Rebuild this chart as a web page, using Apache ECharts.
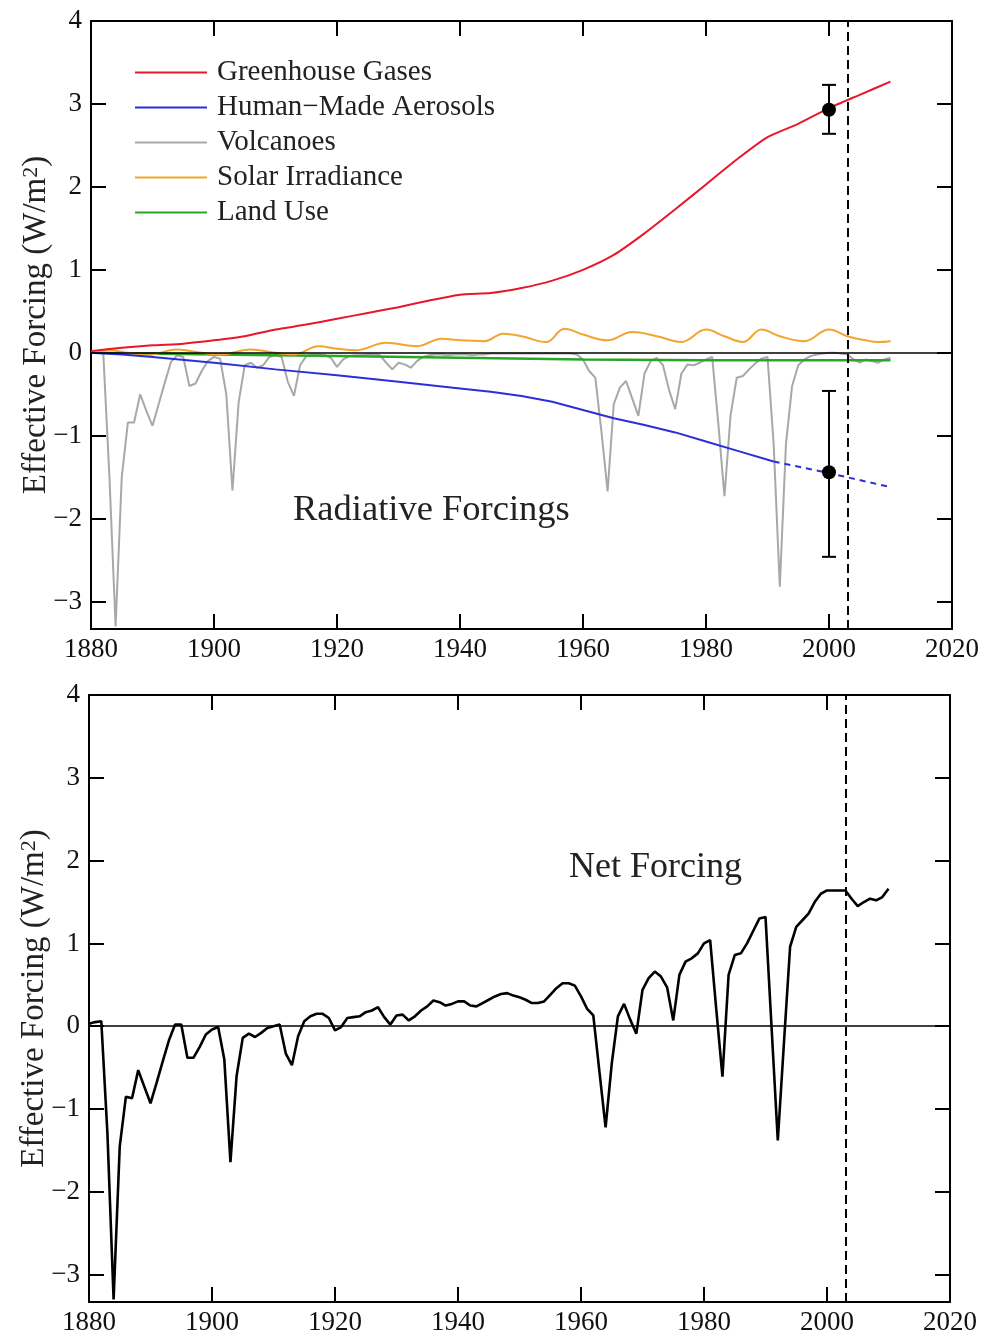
<!DOCTYPE html>
<html><head><meta charset="utf-8">
<script src="https://cdn.jsdelivr.net/npm/echarts@6/dist/echarts.min.js"></script>
<style>html,body{margin:0;padding:0;background:#fff}#c{width:983px;height:1337px}</style>
</head><body><div id="c"></div>
<script>
// ---------- DATA ----------
const firstYear = 1880;
const xTicks = [1880, 1900, 1920, 1940, 1960, 1980, 2000, 2020];
const yTicks = [-3, -2, -1, 0, 1, 2, 3, 4];
const seriesNames = ['Greenhouse Gases', 'Human\u2212Made Aerosols', 'Volcanoes', 'Solar Irradiance', 'Land Use'];

const ghg = [[1880,0.02],[1885,0.06],[1890,0.09],[1895,0.11],[1900,0.15],[1905,0.2],[1910,0.28],[1915,0.34],[1920,0.41],[1925,0.48],[1930,0.55],[1935,0.63],[1940,0.7],[1945,0.72],[1950,0.78],[1955,0.87],[1960,1.0],[1965,1.18],[1970,1.44],[1975,1.73],[1980,2.03],[1985,2.33],[1990,2.6],[1995,2.76],[2000,2.95],[2005,3.11],[2010,3.27]];

const aerosolObs = [[1880,0],[1885,-0.02],[1890,-0.05],[1900,-0.12],[1910,-0.2],[1920,-0.27],[1930,-0.35],[1940,-0.43],[1945,-0.47],[1950,-0.52],[1955,-0.59],[1960,-0.69],[1965,-0.79],[1970,-0.87],[1975,-0.96],[1980,-1.07],[1985,-1.18],[1991,-1.31]];
const aerosolExt = [[1991,-1.31],[2000,-1.45],[2010,-1.62]];

const volcano = [0,0,-0.01,-1.5,-3.3,-1.5,-0.84,-0.84,-0.5,-0.7,
 -0.88,-0.62,-0.36,-0.11,-0.03,-0.05,-0.4,-0.37,-0.22,-0.1,
 -0.05,-0.07,-0.5,-1.66,-0.6,-0.15,-0.12,-0.18,-0.15,-0.05,
 -0.03,-0.05,-0.35,-0.52,-0.15,-0.04,-0.02,-0.02,-0.03,-0.06,
 -0.17,-0.08,-0.04,-0.03,-0.03,-0.02,-0.02,-0.03,-0.12,-0.2,
 -0.12,-0.14,-0.18,-0.1,-0.05,-0.03,-0.02,-0.02,-0.03,-0.02,
 -0.02,-0.02,-0.03,-0.02,-0.02,-0.01,-0.01,-0.01,-0.01,-0.01,
 -0.01,-0.01,-0.01,-0.01,-0.01,-0.01,-0.01,-0.01,-0.01,-0.02,
 -0.08,-0.22,-0.3,-0.95,-1.67,-0.62,-0.42,-0.34,-0.55,-0.76,
 -0.25,-0.1,-0.06,-0.15,-0.45,-0.68,-0.25,-0.14,-0.15,-0.12,
 -0.08,-0.05,-0.85,-1.73,-0.75,-0.3,-0.28,-0.2,-0.13,-0.07,
 -0.05,-1.1,-2.82,-1.1,-0.4,-0.15,-0.08,-0.04,-0.02,-0.01,
 0,0,-0.01,-0.02,-0.08,-0.12,-0.08,-0.1,-0.12,-0.08,-0.06];

const solar = [[1880,0.01],[1883,0.03],[1886,0.0],[1889,-0.03],[1894,0.04],[1898,0.0],[1901,-0.02],[1906,0.04],[1910,0.0],[1913,-0.02],[1917,0.08],[1920,0.05],[1923,0.03],[1928,0.12],[1933,0.08],[1937,0.17],[1940,0.15],[1944,0.14],[1947,0.23],[1950,0.2],[1954,0.13],[1957,0.29],[1960,0.22],[1964,0.15],[1968,0.25],[1972,0.2],[1976,0.13],[1980,0.28],[1983,0.2],[1986,0.13],[1989,0.28],[1992,0.2],[1996,0.14],[2000,0.28],[2003,0.2],[2006,0.15],[2008,0.13],[2010,0.14]];

const landUse = [[1880,0],[1900,-0.02],[1920,-0.04],[1940,-0.06],[1960,-0.08],[1980,-0.09],[2000,-0.09],[2010,-0.09]];

const netForcing = [0.03,0.05,0.06,-1.3,-3.3,-1.45,-0.85,-0.87,-0.53,-0.73,
 -0.93,-0.68,-0.42,-0.17,0.02,0.02,-0.38,-0.38,-0.25,-0.1,
 -0.04,-0.01,-0.4,-1.64,-0.6,-0.14,-0.09,-0.13,-0.08,-0.02,
 0.0,0.02,-0.33,-0.47,-0.12,0.06,0.12,0.15,0.15,0.1,
 -0.05,-0.01,0.1,0.11,0.12,0.17,0.19,0.23,0.11,0.02,
 0.13,0.14,0.07,0.12,0.19,0.24,0.31,0.29,0.25,0.27,
 0.3,0.3,0.25,0.24,0.28,0.32,0.36,0.39,0.4,0.37,
 0.35,0.32,0.28,0.28,0.3,0.38,0.46,0.52,0.52,0.49,
 0.36,0.21,0.13,-0.55,-1.22,-0.45,0.12,0.27,0.08,-0.09,
 0.44,0.58,0.66,0.6,0.47,0.07,0.62,0.78,0.82,0.88,
 1.0,1.04,0.2,-0.61,0.62,0.86,0.88,1.0,1.15,1.3,
 1.32,-0.03,-1.38,-0.2,0.96,1.2,1.28,1.36,1.5,1.6,
 1.64,1.64,1.64,1.64,1.54,1.45,1.5,1.54,1.52,1.56,1.66];

const obsYear = [2000, 2000];           // estimate points
const obsValue = [2.93, -1.44];
const obsLow = [2.64, -2.46];
const obsHigh = [3.23, -0.46];
const refYear = 2003;                   // dashed vertical line

// ---------- BUILD ----------
const yearsOf = arr => arr.map((v, i) => [firstYear + i, v]);
const FONT = "'Liberation Serif','Times New Roman',serif";
const C = {red:'#e8172b', blue:'#2b2fd8', gray:'#a8a8a8', orange:'#f2a42e', green:'#2aa52a', black:'#000'};
const Y_MIN = -3.33, Y_MAX = 4;

function axisPair(kind, gi) {
  const isX = kind === 'x';
  const common = {
    type: 'value', gridIndex: gi,
    min: isX ? xTicks[0] : Y_MIN, max: isX ? xTicks[xTicks.length-1] : Y_MAX,
    splitLine: {show:false},
    axisLine: {show:true, onZero:false, lineStyle:{color:'#000', width:2}},
    axisTick: {show:true, inside:true, length:15, lineStyle:{color:'#000', width:2}}
  };
  if (isX) { common.interval = xTicks[1]-xTicks[0]; }
  else { common.splitNumber = yTicks.length - 1; }
  const fmt = v => {
    if (Math.abs(v - Math.round(v)) > 1e-6) return '';
    return String(Math.round(v)).replace('-', '\u2212');
  };
  const main = Object.assign({}, common, {
    position: isX ? 'bottom' : 'left',
    axisLabel: {show:true, color:'#111', fontFamily:FONT, fontSize:27, margin: isX ? 7 : 9, formatter: fmt}
  });
  if (!isX) {
    Object.assign(main, {
      name: '{t|Effective Forcing (W/m}{s|2}{t|)}',
      nameLocation: 'middle', nameGap: 38, nameRotate: 90, nameMoveOverlap: false,
      nameTextStyle: {
        fontFamily: FONT, fontSize: 33, color:'#222',
        rich: {
          t: {fontFamily: FONT, fontSize: 33, color:'#222'},
          s: {fontFamily: FONT, fontSize: 22, color:'#222', verticalAlign:'top'}
        }
      }
    });
  }
  const mirror = Object.assign({}, common, {
    position: isX ? 'top' : 'right',
    axisLabel: {show:false}
  });
  return [main, mirror];
}

const xAxis = [...axisPair('x',0), ...axisPair('x',1)];
const yAxis = [...axisPair('y',0), ...axisPair('y',1)];

const refLines = {
  silent: true, symbol: ['none','none'], label:{show:false},
  data: [
    {yAxis: 0, lineStyle:{color:'#000', width:1.6, type:'solid'}},
    {xAxis: refYear, lineStyle:{color:'#000', width:2, type:[9,5]}}
  ]
};

const lineBase = {type:'line', showSymbol:false, symbol:'none', xAxisIndex:0, yAxisIndex:0, animation:false};

const series = [
  Object.assign({}, lineBase, {name: seriesNames[2], data: yearsOf(volcano), color:C.gray, lineStyle:{width:2, color:C.gray}, z:2}),
  Object.assign({}, lineBase, {name: seriesNames[4], data: landUse, color:C.green, lineStyle:{width:2.5, color:C.green}, z:3}),
  Object.assign({}, lineBase, {name: seriesNames[3], data: solar, smooth:0.4, color:C.orange, lineStyle:{width:2, color:C.orange}, z:3}),
  Object.assign({}, lineBase, {name: seriesNames[1], data: aerosolObs, color:C.blue, lineStyle:{width:2, color:C.blue}, z:4}),
  Object.assign({}, lineBase, {name: seriesNames[1], data: aerosolExt, color:C.blue, lineStyle:{width:2, color:C.blue, type:[6,5]}, z:4}),
  Object.assign({}, lineBase, {name: seriesNames[0], data: ghg, smooth:0.2, color:C.red, lineStyle:{width:2, color:C.red}, z:5}),
  Object.assign({}, lineBase, {name: 'zero1', data: [], markLine: refLines, z:6}),
  {
    type:'custom', name:'err', xAxisIndex:0, yAxisIndex:0, z:7,
    data: obsYear.map((x,i)=>[x, obsLow[i], obsHigh[i]]),
    encode: {x:0, y:[1,2]},
    renderItem: function(params, api){
      const x = api.value(0);
      const p1 = api.coord([x, api.value(1)]);
      const p2 = api.coord([x, api.value(2)]);
      const w = 7, st = {stroke:'#000', lineWidth:2};
      return {type:'group', children:[
        {type:'line', shape:{x1:p1[0], y1:p1[1], x2:p2[0], y2:p2[1]}, style:st},
        {type:'line', shape:{x1:p1[0]-w, y1:p1[1], x2:p1[0]+w, y2:p1[1]}, style:st},
        {type:'line', shape:{x1:p2[0]-w, y1:p2[1], x2:p2[0]+w, y2:p2[1]}, style:st}
      ]};
    }
  },
  {type:'scatter', name:'obs', xAxisIndex:0, yAxisIndex:0, z:8, symbolSize:14,
   itemStyle:{color:'#000', opacity:1}, data: obsYear.map((x,i)=>[x, obsValue[i]])},
  // bottom panel
  Object.assign({}, lineBase, {name:'Net Forcing', xAxisIndex:2, yAxisIndex:2, data: yearsOf(netForcing), color:'#000',
    lineStyle:{width:2.6, color:'#000'}, z:5, markLine: refLines})
];

const option = {
  animation: false,
  backgroundColor: '#fff',
  grid: [
    {left:91, top:21, width:861, height:608},
    {left:89, top:695, width:861, height:607}
  ],
  xAxis, yAxis,
  legend: {
    orient:'vertical', left:130, top:53, itemWidth:72, itemHeight:2, itemGap:6,
    icon:'rect', selectedMode:false,
    data: seriesNames,
    textStyle: {fontFamily:FONT, fontSize:29, color:'#222', padding:[0,0,0,5]}
  },
  graphic: [
    {type:'text', left:293, top:492, style:{text:'Radiative Forcings', font:'36.5px ' + FONT, fill:'#222'}},
    {type:'text', left:569, top:850, style:{text:'Net Forcing', font:'36px ' + FONT, fill:'#222'}}
  ],
  series
};

const chart = echarts.init(document.getElementById('c'));
chart.setOption(option);
</script>
</body></html>
